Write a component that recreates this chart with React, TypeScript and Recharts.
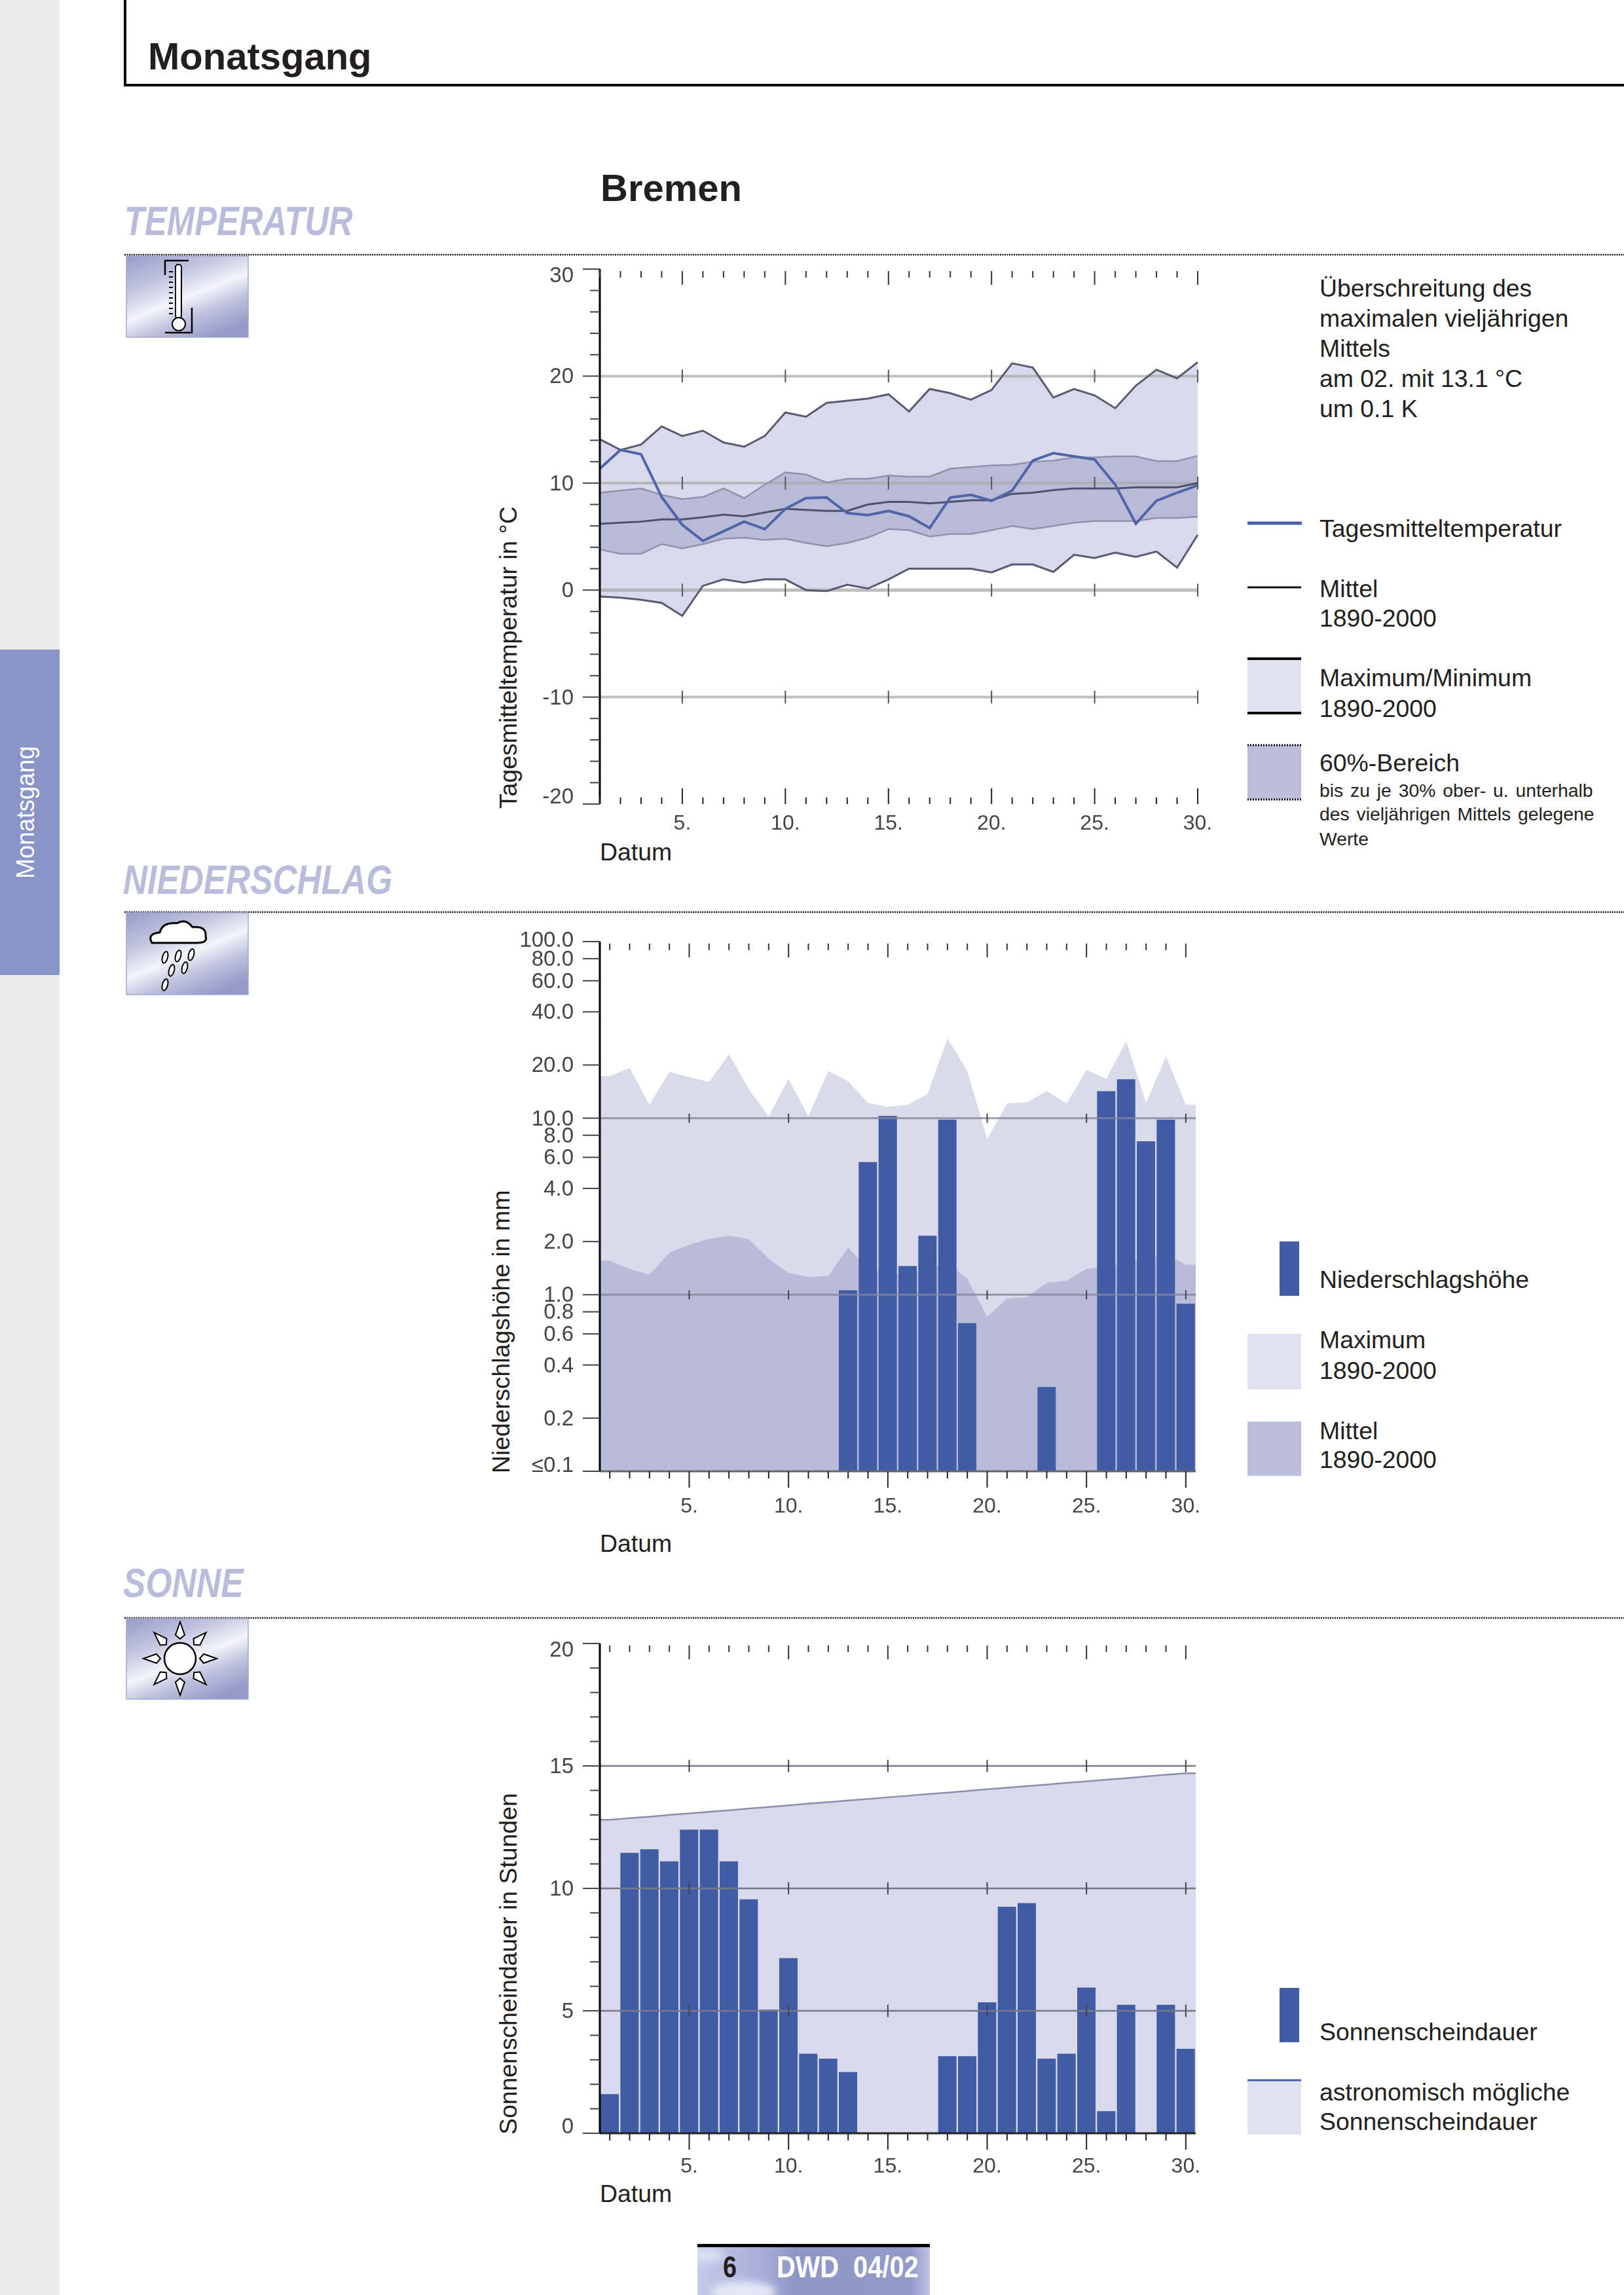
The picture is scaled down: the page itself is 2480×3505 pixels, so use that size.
import {
  Area,
  Bar,
  ComposedChart,
  Line,
  ReferenceLine,
  XAxis,
  YAxis,
} from "recharts";

const FONT = "'Liberation Sans', Arial, sans-serif";

const days = [
  1, 2, 3, 4, 5, 6, 7, 8, 9, 10, 11, 12, 13, 14, 15, 16, 17, 18, 19, 20, 21, 22,
  23, 24, 25, 26, 27, 28, 29, 30,
];
const fiveDays = [5, 10, 15, 20, 25, 30];

// Temperatur
const tempMax = [
  14.1, 13.1, 13.6, 15.3, 14.4, 14.9, 13.8, 13.4, 14.4, 16.6, 16.2, 17.5, 17.7,
  17.9, 18.3, 16.7, 18.8, 18.4, 17.8, 18.7, 21.2, 20.8, 18.0, 18.8, 18.2, 17.0,
  19.1, 20.6, 19.8, 21.3,
];
const tempMin = [
  -0.6, -0.7, -0.9, -1.2, -2.4, 0.4, 1.0, 0.7, 1.0, 1.0, 0, -0.1, 0.5, 0.15, 1.0,
  2.0, 2.0, 2.0, 2.0, 1.65, 2.4, 2.4, 1.7, 3.3, 3.0, 3.5, 3.1, 3.6, 2.1, 5.15,
];
const tempUpper = [
  9.1, 9.3, 9.5, 8.9, 8.5, 8.7, 9.5, 8.6, 9.85, 11, 10.8, 10.05, 10.4, 10.4, 10.7,
  10.6, 10.6, 11.35, 11.5, 11.65, 11.7, 12, 12.1, 12.4, 12.4, 12.5, 12.5, 12.05,
  12.05, 12.55,
];
const tempLower = [
  3.8, 3.4, 3.4, 4.3, 3.9, 4.3, 4.8, 4.9, 4.7, 4.8, 4.4, 4.1, 4.4, 4.9, 5.7, 5.6,
  5, 5.25, 5.25, 5.6, 6, 5.7, 6, 6.3, 6.45, 6.45, 6.45, 6.75, 6.75, 6.85,
];
const tempMean = [
  6.2, 6.3, 6.4, 6.6, 6.6, 6.8, 7.05, 6.9, 7.25, 7.6, 7.5, 7.4, 7.4, 8, 8.25, 8.25,
  8.1, 8.25, 8.4, 8.4, 9, 9.1, 9.35, 9.5, 9.5, 9.5, 9.6, 9.6, 9.6, 10,
];
const tempDaily = [
  11.35, 13.1, 12.7, 8.7, 6.1, 4.6, 5.5, 6.4, 5.7, 7.6, 8.6, 8.65, 7.2, 7, 7.4, 6.9,
  5.8, 8.65, 8.9, 8.35, 9.3, 12.1, 12.8, 12.5, 12.2, 9.85, 6.2, 8.35, 9.1, 9.8,
];
const tempTicks = [
  -20, -18, -16, -14, -12, -10, -8, -6, -4, -2, 0, 2, 4, 6, 8, 10, 12, 14, 16, 18,
  20, 22, 24, 26, 28, 30,
];
const tempMajor = [-20, -10, 0, 10, 20, 30];
const tempGrid = [-10, 0, 10, 20];

// Niederschlag
const rainMax = [
  17.3, 19.3, 11.9, 18.3, 17.1, 16.0, 23.0, 14.6, 10.2, 16.7, 10.2, 18.5, 16.2,
  12.2, 11.6, 11.9, 13.7, 28.3, 18.5, 7.6, 12.1, 12.3, 14.2, 12.1, 18.7, 16.7,
  27.3, 12.2, 22.4, 11.9,
];
const rainMean = [
  1.56, 1.4, 1.3, 1.73, 1.92, 2.07, 2.16, 2.07, 1.6, 1.33, 1.26, 1.28, 1.85, 1.4,
  1.33, 1.3, 1.4, 1.52, 1.23, 0.75, 0.95, 0.97, 1.17, 1.2, 1.4, 1.45, 1.5, 1.6,
  1.7, 1.48,
];
const rainDaily = [
  null, null, null, null, null, null, null, null, null, null, null, null, 1.06, 5.64,
  10.3, 1.455, 2.16, 9.8, 0.69, null, null, null, 0.3, null, null, 14.2, 16.6, 7.4,
  9.8, 0.89,
];
const rainTicks = [0.1, 0.2, 0.4, 0.6, 0.8, 1, 2, 4, 6, 8, 10, 20, 40, 60, 80, 100];
const rainGrid = [1, 10];

// Sonne
const sunDaily = [
  1.6, 11.45, 11.6, 11.1, 12.4, 12.4, 11.1, 9.55, 5.05, 7.15, 3.25, 3.05, 2.5, 0, 0,
  0, 0, 3.15, 3.15, 5.35, 9.25, 9.4, 3.05, 3.25, 5.95, 0.9, 5.25, 0, 5.25, 3.45,
];
const sunAstro = [
  12.8, 12.87, 12.93, 13.0, 13.06, 13.13, 13.19, 13.26, 13.32, 13.39, 13.46, 13.52,
  13.59, 13.65, 13.72, 13.78, 13.85, 13.91, 13.98, 14.05, 14.11, 14.18, 14.24,
  14.31, 14.37, 14.44, 14.5, 14.57, 14.64, 14.7,
];
const sunTicks = [
  0, 1, 2, 3, 4, 5, 6, 7, 8, 9, 10, 11, 12, 13, 14, 15, 16, 17, 18, 19, 20,
];
const sunMajor = [0, 5, 10, 15, 20];
const sunGrid = [5, 10, 15];

const tempRows = days.map((day, i) => ({
  day,
  range: [tempMin[i], tempMax[i]],
  band: [tempLower[i], tempUpper[i]],
  max: tempMax[i],
  min: tempMin[i],
  upper: tempUpper[i],
  lower: tempLower[i],
  mean: tempMean[i],
  daily: tempDaily[i],
}));

// the shaded areas run on to the plot edges, the extra rows get clipped off there
const withEdges = (rows: any[]) => [
  { ...rows[0], day: 0, daily: null },
  ...rows,
  { ...rows[rows.length - 1], day: 31, daily: null },
];
const rainRows = withEdges(
  days.map((day, i) => ({
    day,
    max: rainMax[i],
    mean: rainMean[i],
    daily: rainDaily[i],
  }))
);
const sunRows = withEdges(
  days.map((day, i) => ({ day, astro: sunAstro[i], daily: sunDaily[i] }))
);

const LABEL = "#444444";
const blur = { filter: "blur(0.7px)" };

function XTick({ x, y, payload, up, labelY }: any) {
  const big = payload.value % 5 === 0;
  const len = big ? (up ? 24 : 25) : up ? 10 : 11;
  return (
    <g>
      <line
        x1={x}
        x2={x}
        y1={y}
        y2={up ? y - len : y + len}
        stroke="#222"
        strokeWidth={2}
      />
      {big && (
        <text
          x={x}
          y={y + labelY}
          textAnchor="middle"
          fontFamily={FONT}
          fontSize={32}
          fill={LABEL}
          style={blur}
        >
          {payload.value}.
        </text>
      )}
    </g>
  );
}

function TopTick({ x, y, payload }: any) {
  const big = payload.value % 5 === 0;
  return (
    <line
      x1={x}
      x2={x}
      y1={y + 3}
      y2={y + (big ? 24 : 13)}
      stroke="#333"
      strokeWidth={2}
    />
  );
}

function YTick({ x, y, payload, isMajor, format, shift }: any) {
  const major = isMajor(payload.value);
  return (
    <g>
      <line
        x1={x - (major ? 26 : 15)}
        x2={x}
        y1={y}
        y2={y}
        stroke="#444"
        strokeWidth={2}
      />
      {major && (
        <text
          x={x - 40}
          y={y + 11 + (shift[payload.value] || 0)}
          textAnchor="end"
          fontFamily={FONT}
          fontSize={33}
          fill={LABEL}
          style={blur}
        >
          {format(payload.value)}
        </text>
      )}
    </g>
  );
}

function Txt({ x, y, size = 37.4, children, ...rest }: any) {
  return (
    <text x={x} y={y} fontFamily={FONT} fontSize={size} fill="#231f20" {...rest}>
      {children}
    </text>
  );
}

function SectionTitle({ x, y, w, children }: any) {
  return (
    <text
      x={0}
      y={0}
      transform={`translate(${x} ${y}) scale(${w} 1)`}
      fontFamily={FONT}
      fontSize={63}
      fontWeight="bold"
      fontStyle="italic"
      fill="#b9bcda"
    >
      {children}
    </text>
  );
}

function IconBox({ y, h = 124 }: any) {
  return (
    <rect
      x={193}
      y={y}
      width={186}
      height={h}
      fill="url(#iconFill)"
      stroke="#a3a7cc"
      strokeWidth={1.5}
    />
  );
}

function Page() {
  const sunRays = [0, 45, 90, 135, 180, 225, 270, 315];
  return (
    <svg
      width={2480}
      height={3505}
      style={{ position: "absolute", left: 0, top: 0 }}
    >
      <defs>
        <linearGradient id="iconFill" x1="0.1" y1="0" x2="0.7" y2="1">
          <stop offset="0" stopColor="#9ca1cc" />
          <stop offset="0.3" stopColor="#c3c6e0" />
          <stop offset="0.55" stopColor="#f4f4fa" />
          <stop offset="0.75" stopColor="#bfc2de" />
          <stop offset="1" stopColor="#959bc8" />
        </linearGradient>
        <linearGradient id="footFill" x1="0" y1="0" x2="1" y2="0">
          <stop offset="0" stopColor="#c6cbea" />
          <stop offset="0.3" stopColor="#a4abd6" />
          <stop offset="0.42" stopColor="#8f97c8" />
          <stop offset="0.92" stopColor="#929ac9" />
          <stop offset="1" stopColor="#c0c4e4" />
        </linearGradient>
        <clipPath id="footClip">
          <rect x={1065} y={3427} width={355} height={78} />
        </clipPath>
      </defs>
      <rect x={0} y={0} width={2480} height={3505} fill="#ffffff" />
      <rect x={0} y={0} width={91} height={3505} fill="#ebebeb" />
      <rect x={0} y={992} width={91} height={497} fill="#8b94c9" />
      <text
        transform="translate(52 1342) rotate(-90) scale(0.945 1)"
        fontFamily={FONT}
        fontSize={39}
        fill="#ffffff"
      >
        Monatsgang
      </text>

      <path d="M191 0 V130 H2480" fill="none" stroke="#000" strokeWidth={4} />
      <Txt x={226} y={106} size={58} fontWeight="bold">
        Monatsgang
      </Txt>
      <Txt x={917} y={307} size={58} fontWeight="bold">
        Bremen
      </Txt>

      <SectionTitle x={190} y={359} w={0.806}>
        TEMPERATUR
      </SectionTitle>
      <SectionTitle x={188} y={1365} w={0.816}>
        NIEDERSCHLAG
      </SectionTitle>
      <SectionTitle x={188} y={2439} w={0.82}>
        SONNE
      </SectionTitle>

      {[389, 1393, 2471].map((y) => (
        <line
          key={y}
          x1={190}
          x2={2480}
          y1={y}
          y2={y}
          stroke="#111"
          strokeWidth={2.5}
          strokeDasharray="2 1.5"
        />
      ))}

      <IconBox y={391} />
      <path
        d="M288 398 H252 V420 M293 470 V508 H252"
        fill="none"
        stroke="#000"
        strokeWidth={2.5}
      />
      <rect
        x={268}
        y={404}
        width={9}
        height={82}
        rx={4}
        fill="#fff"
        stroke="#000"
        strokeWidth={2}
      />
      <circle cx={273} cy={495} r={10} fill="#fff" stroke="#000" strokeWidth={2} />
      {[415, 423, 431, 439, 447, 455, 463, 471, 479].map((y) => (
        <line key={y} x1={258} x2={264} y1={y} y2={y} stroke="#000" strokeWidth={2} />
      ))}

      <IconBox y={1394} h={125} />
      <path
        d="M232 1440 q-8 -14 12 -16 q4 -16 26 -14 q14 -8 24 6 q22 -2 20 14 q4 10 -14 10 z"
        fill="#fff"
        stroke="#000"
        strokeWidth={3}
      />
      {[
        [252, 1462],
        [272, 1460],
        [292, 1458],
        [262, 1482],
        [282, 1478],
        [252, 1504],
      ].map(([x, y]) => (
        <ellipse
          key={`${x}-${y}`}
          cx={x}
          cy={y}
          rx={4}
          ry={9}
          fill="#fff"
          stroke="#000"
          strokeWidth={2}
          transform={`rotate(15 ${x} ${y})`}
        />
      ))}

      <IconBox y={2472} h={123} />
      <circle cx={275} cy={2533} r={24} fill="#fff" stroke="#000" strokeWidth={2.5} />
      {sunRays.map((a) => (
        <path
          key={a}
          d="M275 2503 l-7 -6 l7 -20 l7 20 z"
          transform={`rotate(${a} 275 2533)`}
          fill="#fff"
          stroke="#000"
          strokeWidth={2}
        />
      ))}

      {/* axis captions */}
      <Txt x={916} y={1314}>
        Datum
      </Txt>
      <Txt x={916} y={2370}>
        Datum
      </Txt>
      <Txt x={916} y={3363}>
        Datum
      </Txt>
      <Txt transform="translate(789 1235) rotate(-90)">
        Tagesmitteltemperatur in °C
      </Txt>
      <Txt transform="translate(778 2250) rotate(-90)">
        Niederschlagshöhe in mm
      </Txt>
      <Txt transform="translate(789 3260) rotate(-90)">
        Sonnenscheindauer in Stunden
      </Txt>

      {/* Temperatur legend */}
      <Txt x={2015} y={453}>
        Überschreitung des
      </Txt>
      <Txt x={2015} y={499}>
        maximalen vieljährigen
      </Txt>
      <Txt x={2015} y={545}>
        Mittels
      </Txt>
      <Txt x={2015} y={591}>
        am 02. mit 13.1 °C
      </Txt>
      <Txt x={2015} y={637}>
        um 0.1 K
      </Txt>
      <line x1={1905} x2={1988} y1={799} y2={799} stroke="#4a5fa5" strokeWidth={5} />
      <Txt x={2015} y={820}>
        Tagesmitteltemperatur
      </Txt>
      <line x1={1905} x2={1987} y1={897} y2={897} stroke="#111" strokeWidth={3} />
      <Txt x={2015} y={912}>
        Mittel
      </Txt>
      <Txt x={2015} y={957}>
        1890-2000
      </Txt>
      <rect x={1905} y={1006} width={82} height={83} fill="#e1e2ef" />
      <line x1={1905} x2={1987} y1={1006} y2={1006} stroke="#000" strokeWidth={4} />
      <line x1={1905} x2={1987} y1={1089} y2={1089} stroke="#000" strokeWidth={4} />
      <Txt x={2015} y={1048}>
        Maximum/Minimum
      </Txt>
      <Txt x={2015} y={1095}>
        1890-2000
      </Txt>
      <rect x={1905} y={1138} width={82} height={83} fill="#bcbfdc" />
      {[1138, 1221].map((y) => (
        <line
          key={y}
          x1={1905}
          x2={1987}
          y1={y}
          y2={y}
          stroke="#000"
          strokeWidth={3}
          strokeDasharray="2 2"
        />
      ))}
      <Txt x={2015} y={1178}>
        60%-Bereich
      </Txt>
      <Txt x={2015} y={1217} size={28.3} wordSpacing={3}>
        bis zu je 30% ober- u. unterhalb
      </Txt>
      <Txt x={2015} y={1253} size={28.3} wordSpacing={3}>
        des vieljährigen Mittels gelegene
      </Txt>
      <Txt x={2015} y={1291} size={28.3}>
        Werte
      </Txt>

      {/* Niederschlag legend */}
      <rect x={1954} y={1896} width={30} height={83} fill="#3f5ca5" />
      <Txt x={2015} y={1967}>
        Niederschlagshöhe
      </Txt>
      <rect x={1905} y={2037} width={82} height={85} fill="#e1e2ef" />
      <Txt x={2015} y={2059}>
        Maximum
      </Txt>
      <Txt x={2015} y={2106}>
        1890-2000
      </Txt>
      <rect x={1905} y={2171} width={82} height={83} fill="#bcbfdc" />
      <Txt x={2015} y={2198}>
        Mittel
      </Txt>
      <Txt x={2015} y={2242}>
        1890-2000
      </Txt>

      {/* Sonne legend */}
      <rect x={1954} y={3036} width={30} height={83} fill="#3f5ca5" />
      <Txt x={2015} y={3116}>
        Sonnenscheindauer
      </Txt>
      <rect x={1905} y={3177} width={82} height={83} fill="#e1e2ef" />
      <line x1={1905} x2={1987} y1={3177} y2={3177} stroke="#4a5fa5" strokeWidth={3} />
      <Txt x={2015} y={3208}>
        astronomisch mögliche
      </Txt>
      <Txt x={2015} y={3253}>
        Sonnenscheindauer
      </Txt>

      {/* footer */}
      <rect x={1065} y={3427} width={355} height={78} fill="url(#footFill)" />
      <g clipPath="url(#footClip)" style={{ filter: "blur(6px)" }}>
        <ellipse cx={1135} cy={3500} rx={50} ry={16} fill="#e4e6f6" />
        <ellipse cx={1080} cy={3445} rx={25} ry={10} fill="#dcdff4" />
      </g>
      <rect x={1065} y={3427} width={355} height={5} fill="#000" />
      <text
        transform="translate(1104 3478) scale(0.82 1)"
        fontFamily={FONT}
        fontSize={46}
        fontWeight="bold"
        fill="#231f20"
      >
        6
      </text>
      <text
        transform="translate(1186 3478) scale(0.865 1)"
        fontFamily={FONT}
        fontSize={46}
        fontWeight="bold"
        fill="#ffffff"
        xmlSpace="preserve"
      >
        DWD  04/02
      </text>
    </svg>
  );
}

function TempChart() {
  return (
    <div style={{ position: "absolute", left: 760, top: 370 }}>
      <ComposedChart
        width={1140}
        height={958}
        data={tempRows}
        margin={{ top: 40, right: 71, bottom: 0, left: 0 }}
      >
        <XAxis
          dataKey="day"
          type="number"
          domain={[1, 30]}
          ticks={days}
          interval={0}
          height={100}
          axisLine={false}
          tickLine={false}
          tickSize={0}
          tickMargin={0}
          tick={(p: any) => <XTick {...p} up labelY={39} />}
        />
        <XAxis
          xAxisId="top"
          orientation="top"
          dataKey="day"
          type="number"
          domain={[1, 30]}
          ticks={days}
          interval={0}
          height={1}
          axisLine={false}
          tickLine={false}
          tickSize={0}
          tickMargin={0}
          tick={(p: any) => <TopTick {...p} />}
        />
        <YAxis
          type="number"
          domain={[-20, 30]}
          ticks={tempTicks}
          interval={0}
          width={156}
          axisLine={{ stroke: "#000", strokeWidth: 3 }}
          tickLine={false}
          tickSize={0}
          tickMargin={0}
          tick={(p: any) => (
            <YTick
              {...p}
              isMajor={(v: number) => tempMajor.includes(v)}
              format={(v: number) => `${v}`}
              shift={{ 30: 9, [-20]: -12 }}
            />
          )}
        />
        <Area
          dataKey="range"
          fill="#d8d9ea"
          fillOpacity={1}
          stroke="none"
          isAnimationActive={false}
        />
        <Area
          dataKey="band"
          fill="#b8bbd8"
          fillOpacity={1}
          stroke="none"
          isAnimationActive={false}
        />
        {tempGrid.map((g) => (
          <ReferenceLine
            key={g}
            y={g}
            stroke={g === 0 ? "#a8a8a8" : "#aaaaaa"}
            strokeOpacity={0.75}
            strokeWidth={g === 0 ? 5 : 4}
          />
        ))}
        {tempGrid.flatMap((g) =>
          fiveDays.map((d) => (
            <ReferenceLine
              key={`${g}-${d}`}
              segment={[
                { x: d, y: g - 0.6 },
                { x: d, y: g + 0.6 },
              ]}
              stroke="#555"
              strokeWidth={2}
            />
          ))
        )}
        <Line dataKey="upper" stroke="#8f91ad" strokeWidth={2.5} dot={false} isAnimationActive={false} />
        <Line dataKey="lower" stroke="#8f91ad" strokeWidth={2.5} dot={false} isAnimationActive={false} />
        <Line dataKey="max" stroke="#585b72" strokeWidth={3} dot={false} isAnimationActive={false} />
        <Line dataKey="min" stroke="#585b72" strokeWidth={3} dot={false} isAnimationActive={false} />
        <Line dataKey="mean" stroke="#50506a" strokeWidth={3} dot={false} isAnimationActive={false} />
        <Line dataKey="daily" stroke="#5064a8" strokeWidth={4} dot={false} isAnimationActive={false} />
        <Line xAxisId="top" dataKey="daily" stroke="none" dot={false} isAnimationActive={false} />
      </ComposedChart>
    </div>
  );
}

function RainChart() {
  return (
    <div style={{ position: "absolute", left: 760, top: 1397 }}>
      <ComposedChart
        width={1140}
        height={950}
        data={rainRows}
        margin={{ top: 40, right: 74, bottom: 0, left: 0 }}
      >
        <XAxis
          dataKey="day"
          type="number"
          domain={[0.5, 30.5]}
          allowDataOverflow
          ticks={days}
          interval={0}
          height={100}
          axisLine={{ stroke: "#666", strokeWidth: 3 }}
          tickLine={false}
          tickSize={0}
          tickMargin={0}
          tick={(p: any) => <XTick {...p} labelY={63} />}
        />
        <XAxis
          xAxisId="top"
          orientation="top"
          dataKey="day"
          type="number"
          domain={[0.5, 30.5]}
          allowDataOverflow
          ticks={days}
          interval={0}
          height={1}
          axisLine={false}
          tickLine={false}
          tickSize={0}
          tickMargin={0}
          tick={(p: any) => <TopTick {...p} />}
        />
        <YAxis
          type="number"
          scale="log"
          domain={[0.1, 100]}
          ticks={rainTicks}
          interval={0}
          width={156}
          allowDataOverflow
          axisLine={{ stroke: "#000", strokeWidth: 3 }}
          tickLine={false}
          tickSize={0}
          tickMargin={0}
          tick={(p: any) => (
            <YTick
              {...p}
              isMajor={() => true}
              format={(v: number) => (v === 0.1 ? "≤0.1" : v.toFixed(1))}
              shift={{ 0.1: -10, 100: -3 }}
            />
          )}
        />
        <Area
          dataKey="max"
          fill="#d9dbeb"
          fillOpacity={1}
          stroke="none"
          isAnimationActive={false}
        />
        <Area
          dataKey="mean"
          fill="#b9bcd9"
          fillOpacity={1}
          stroke="none"
          isAnimationActive={false}
        />
        {rainGrid.map((g) => (
          <ReferenceLine key={g} y={g} stroke="#85859a" strokeOpacity={0.8} strokeWidth={3} />
        ))}
        {rainGrid.flatMap((g) =>
          [5, 10, 20, 25, 30].map((d) => (
            <ReferenceLine
              key={`${g}-${d}`}
              segment={[
                { x: d, y: g * 0.94 },
                { x: d, y: g * 1.06 },
              ]}
              stroke="#444"
              strokeWidth={2}
            />
          ))
        )}
        <Bar dataKey="daily" fill="#3f5ca5" barSize={28} isAnimationActive={false} />
        <Line xAxisId="top" dataKey="mean" stroke="none" dot={false} isAnimationActive={false} />
      </ComposedChart>
    </div>
  );
}

function SunChart() {
  return (
    <div style={{ position: "absolute", left: 760, top: 2469 }}>
      <ComposedChart
        width={1140}
        height={889}
        data={sunRows}
        margin={{ top: 40, right: 74, bottom: 0, left: 0 }}
      >
        <XAxis
          dataKey="day"
          type="number"
          domain={[0.5, 30.5]}
          allowDataOverflow
          ticks={days}
          interval={0}
          height={100}
          axisLine={{ stroke: "#222", strokeWidth: 3 }}
          tickLine={false}
          tickSize={0}
          tickMargin={0}
          tick={(p: any) => <XTick {...p} labelY={60} />}
        />
        <XAxis
          xAxisId="top"
          orientation="top"
          dataKey="day"
          type="number"
          domain={[0.5, 30.5]}
          allowDataOverflow
          ticks={days}
          interval={0}
          height={1}
          axisLine={false}
          tickLine={false}
          tickSize={0}
          tickMargin={0}
          tick={(p: any) => <TopTick {...p} />}
        />
        <YAxis
          type="number"
          domain={[0, 20]}
          ticks={sunTicks}
          interval={0}
          width={156}
          axisLine={{ stroke: "#000", strokeWidth: 3 }}
          tickLine={false}
          tickSize={0}
          tickMargin={0}
          tick={(p: any) => (
            <YTick
              {...p}
              isMajor={(v: number) => sunMajor.includes(v)}
              format={(v: number) => `${v}`}
              shift={{ 20: 9, 0: -11 }}
            />
          )}
        />
        <Area
          dataKey="astro"
          fill="#d8d9ea"
          fillOpacity={1}
          stroke="#8c8cb0"
          strokeWidth={2.5}
          isAnimationActive={false}
        />
        {sunGrid.map((g) => (
          <ReferenceLine key={g} y={g} stroke="#77778a" strokeWidth={2.5} />
        ))}
        {sunGrid.flatMap((g) =>
          fiveDays.map((d) => (
            <ReferenceLine
              key={`${g}-${d}`}
              segment={[
                { x: d, y: g - 0.25 },
                { x: d, y: g + 0.25 },
              ]}
              stroke="#444"
              strokeWidth={2}
            />
          ))
        )}
        <Bar dataKey="daily" fill="#3f5ca5" barSize={28} isAnimationActive={false} />
        <Line xAxisId="top" dataKey="astro" stroke="none" dot={false} isAnimationActive={false} />
      </ComposedChart>
    </div>
  );
}

export default function App() {
  return (
    <div
      style={{
        position: "absolute",
        left: 0,
        top: 0,
        width: 2480,
        height: 3505,
        overflow: "hidden",
        background: "#fff",
      }}
    >
      <Page />
      <TempChart />
      <RainChart />
      <SunChart />
    </div>
  );
}
